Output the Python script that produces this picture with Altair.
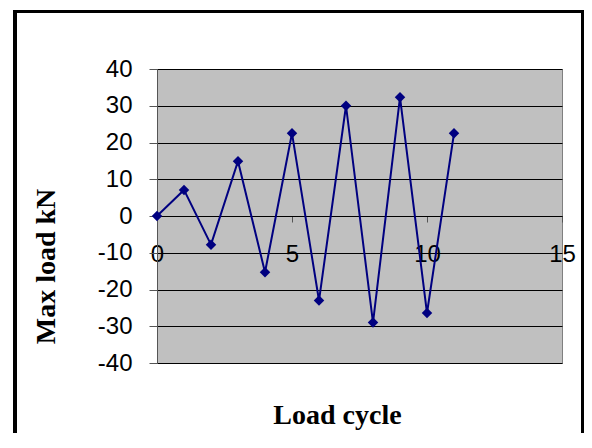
import altair as alt
import pandas as pd

# Data
load_cycle = [0, 1, 2, 3, 4, 5, 6, 7, 8, 9, 10, 11]
max_load_kn = [0, 7.1, -7.8, 14.9, -15.3, 22.5, -23, 30, -29, 32.3, -26.4, 22.5]
x_ticks = [0, 5, 10, 15]
y_ticks = [-40, -30, -20, -10, 0, 10, 20, 30, 40]

df = pd.DataFrame({"cycle": load_cycle, "load": max_load_kn})

W, H = 405, 294
NAVY = "#000080"

x_enc = alt.X(
    "cycle:Q",
    scale=alt.Scale(domain=[0, 15], nice=False, zero=False),
    axis=alt.Axis(
        values=x_ticks, offset=-147, grid=False,
        domainColor="#000000", tickColor="#555555", tickSize=6,
        labelFont="Liberation Sans", labelFontSize=24, labelColor="#000000",
        labelPadding=20, labelFlush=False, labelOverlap=False,
        labelExpr="'' + datum.value",
        title="Load cycle", titleFont="Liberation Serif", titleFontSize=28,
        titleFontWeight="bold", titleColor="#000000",
        titleX=180, titleY=207, titleBaseline="alphabetic", titleAlign="center",
    ),
)
y_enc = alt.Y(
    "load:Q",
    scale=alt.Scale(domain=[-40, 40], nice=False),
    axis=alt.Axis(
        values=y_ticks, tickCount=9, grid=True, gridColor="#000000", gridWidth=1,
        gridOpacity=1,
        domainColor="#555555", tickColor="#555555", tickSize=8,
        labelFont="Liberation Sans", labelFontSize=24, labelColor="#000000",
        labelPadding=17, labelFlush=False, labelOverlap=False,
        labelExpr="'' + datum.value",
        title="Max load kN", titleFont="Liberation Serif", titleFontSize=28,
        titleFontWeight="bold", titleColor="#000000",
        titleX=-111, titleY=197, titleAngle=-90,
        titleBaseline="middle", titleAlign="center",
    ),
)

base = alt.Chart(df)
line = base.mark_line(color=NAVY, strokeWidth=2).encode(x=x_enc, y=y_enc)
points = base.mark_point(
    shape="diamond", filled=True, color=NAVY, size=110, opacity=1
).encode(x=x_enc, y=y_enc)

border = base.mark_rect(
    filled=False, stroke="#000000", strokeWidth=3, fill=None
).encode(
    x=alt.value(-142), x2=alt.value(425.5),
    y=alt.value(-57.5), y2=alt.value(400),
)

chart = alt.layer(line, points, border).properties(
    width=W, height=H,
    autosize=alt.AutoSizeParams(type="none"),
    padding={"left": 149, "top": 61, "right": 22, "bottom": 70},
    background="#ffffff",
).configure_view(
    fill="#c0c0c0", stroke="#808080", strokeWidth=1
)

chart.save("out.html", embed_options={"renderer": "svg", "actions": False})
